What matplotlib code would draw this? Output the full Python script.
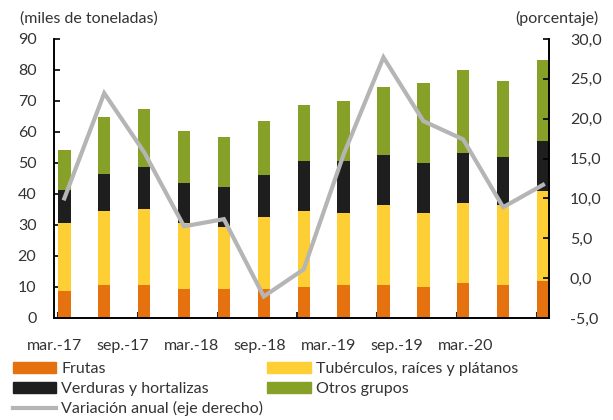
import numpy as np
import matplotlib
matplotlib.use('Agg')
from matplotlib import pyplot as plt
from matplotlib.patches import Patch
from matplotlib.lines import Line2D

plt.rcParams['font.family'] = ['Lato', 'DejaVu Sans']

# datos (trimestres mar-17 ... mar-20)
periodos = ['mar.-17', 'jun.-17', 'sep.-17', 'dic.-17', 'mar.-18', 'jun.-18', 'sep.-18',
            'dic.-18', 'mar.-19', 'jun.-19', 'sep.-19', 'dic.-19', 'mar.-20']
frutas = [8.6, 10.5, 10.5, 9.2, 9.2, 9.3, 9.9, 10.5, 10.5, 9.9, 11.2, 10.5, 11.8]
tuberculos = [22.0, 24.0, 24.7, 21.4, 20.0, 23.2, 24.6, 23.4, 25.8, 24.0, 25.8, 25.8, 29.0]
verduras = [10.8, 12.1, 13.4, 12.8, 12.9, 13.5, 16.0, 16.6, 16.2, 16.0, 16.1, 15.5, 16.2]
otros = [12.9, 18.1, 18.8, 16.8, 16.3, 17.4, 18.1, 19.4, 21.9, 25.8, 27.0, 24.5, 26.3]
variacion = [10.0, 23.2, 15.8, 6.5, 7.4, -2.3, 1.1, 15.5, 27.7, 19.7, 17.4, 8.9, 11.7]
etiquetas_x = ['mar.-17', 'sep.-17', 'mar.-18', 'sep.-18', 'mar.-19', 'sep.-19', 'mar.-20']

c_frutas = '#E5720F'
c_tub = '#FDCF35'
c_verd = '#1E1E1E'
c_otros = '#86A028'
c_linea = '#B5B5B5'
fs = 11.5

fig = plt.figure(figsize=(6.13, 4.2), dpi=100)
ax1 = fig.add_axes([0.0889, 0.2429, 0.8067, 0.6643])
ax2 = ax1.twinx()

x = np.arange(len(periodos))
w = 0.31
b1 = np.array(frutas)
b2 = b1 + np.array(tuberculos)
b3 = b2 + np.array(verduras)
ax1.bar(x, frutas, w, color=c_frutas, zorder=2)
ax1.bar(x, tuberculos, w, bottom=b1, color=c_tub, zorder=2)
ax1.bar(x, verduras, w, bottom=b2, color=c_verd, zorder=2)
ax1.bar(x, otros, w, bottom=b3, color=c_otros, zorder=2)

ax2.plot(x, variacion, color=c_linea, lw=3, solid_joinstyle='miter', zorder=3)

ax1.set_xlim(-0.185, 12.15)
ax1.set_ylim(0, 90)
ax1.set_yticks(np.arange(0, 91, 10))
ax2.set_ylim(-5, 30)
ax2.set_yticks(np.arange(-5, 31, 5))
ax2.set_yticklabels([('%.1f' % v).replace('.', ',') for v in np.arange(-5, 31, 5)])

# marcas del eje x (entre categorias) y etiquetas desplazadas
ax1.set_xticks(np.arange(0, 13, 2) - 0.16, minor=True)
ax1.set_xticks(-0.247 + 1.716 * np.arange(len(etiquetas_x)))
ax1.set_xticklabels(etiquetas_x)
ax1.tick_params(axis='x', which='major', length=0, pad=15, labelsize=fs, colors='#333333')
ax1.tick_params(axis='x', which='minor', direction='in', length=4, width=1.2)
ax1.tick_params(axis='y', direction='in', length=4, width=1.2, pad=13, labelsize=fs, labelcolor='#333333')
ax2.tick_params(axis='y', direction='in', length=4, width=1.2, pad=15, labelsize=fs, labelcolor='#333333')

for ax in (ax1, ax2):
    ax.spines['top'].set_visible(False)
    for s in ('left', 'right', 'bottom'):
        ax.spines[s].set_linewidth(1.2)
ax1.set_zorder(ax2.get_zorder() - 1)
ax2.patch.set_visible(False)

fig.text(0.033, 0.955, '(miles de toneladas)', fontsize=fs, color='#333333', va='center')
fig.text(0.976, 0.955, '(porcentaje)', fontsize=fs, color='#333333', va='center', ha='right')

handles = [Patch(color=c_frutas), Patch(color=c_verd),
           Line2D([], [], color=c_linea, lw=3),
           Patch(color=c_tub), Patch(color=c_otros)]
labels = ['Frutas', 'Verduras y hortalizas', 'Variación anual (eje derecho)',
          'Tubérculos, raíces y plátanos', 'Otros grupos']
fig.legend(handles, labels, ncol=2, loc='upper left', bbox_to_anchor=(0.0, 0.168),
           frameon=False, fontsize=fs, handlelength=2.7, handleheight=0.7,
           handletextpad=0.35, labelspacing=0.33, columnspacing=0.25, borderpad=0.3,
           labelcolor='#333333')

fig.savefig('out.png', dpi=100)
